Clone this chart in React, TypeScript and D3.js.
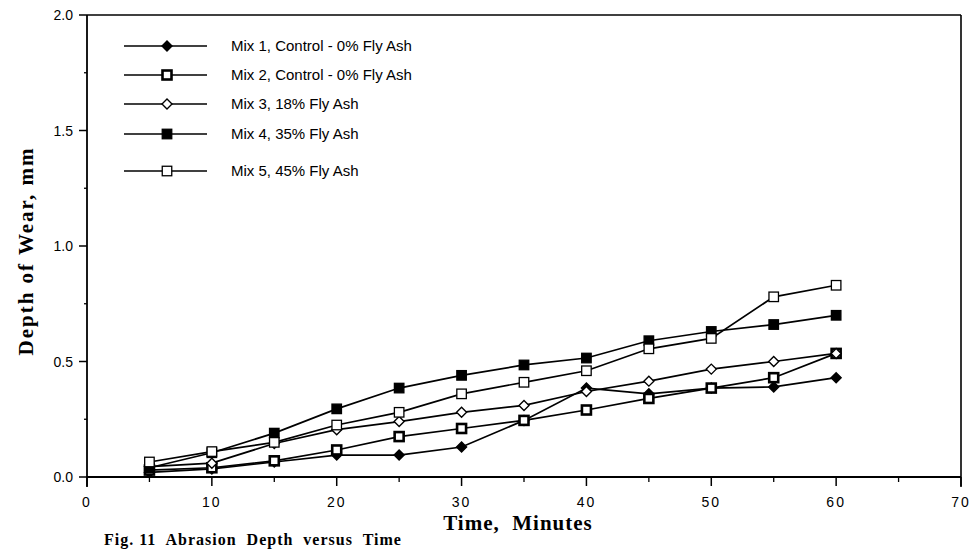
import React from 'react';
import * as d3 from 'd3';

// time (minutes) at which wear depth was read
const times = [5, 10, 15, 20, 25, 30, 35, 40, 45, 50, 55, 60];

// depth of wear, mm - one array per mix
const mix1 = [0.02, 0.035, 0.065, 0.095, 0.095, 0.13, 0.245, 0.385, 0.36, 0.385, 0.39, 0.43];
const mix2 = [0.03, 0.04, 0.07, 0.117, 0.175, 0.21, 0.245, 0.29, 0.34, 0.385, 0.43, 0.535];
const mix3 = [0.045, 0.06, 0.145, 0.205, 0.24, 0.28, 0.31, 0.37, 0.415, 0.467, 0.5, 0.535];
const mix4 = [0.04, 0.105, 0.19, 0.295, 0.385, 0.44, 0.485, 0.515, 0.59, 0.63, 0.66, 0.70];
const mix5 = [0.065, 0.11, 0.15, 0.225, 0.28, 0.36, 0.41, 0.46, 0.555, 0.60, 0.78, 0.83];

const seriesNames = [
  'Mix 1, Control - 0% Fly Ash',
  'Mix 2, Control - 0% Fly Ash',
  'Mix 3, 18% Fly Ash',
  'Mix 4, 35% Fly Ash',
  'Mix 5, 45% Fly Ash',
];
const seriesMarkers = ['diamondFilled', 'squareBold', 'diamondOpen', 'squareFilled', 'squareOpen'];
const seriesValues = [mix1, mix2, mix3, mix4, mix5];

const xTicks = [0, 10, 20, 30, 40, 50, 60, 70];
const xMinor = [5, 15, 25, 35, 45, 55, 65];
const yTicks = [0, 0.5, 1.0, 1.5, 2.0];
const yMinor = [0.25, 0.75, 1.25, 1.75];

const sans = '"Liberation Sans", Arial, sans-serif';
const serif = '"Liberation Serif", "Times New Roman", serif';

function Marker({ kind, x, y }: { kind: string; x: number; y: number }) {
  if (kind === 'diamondFilled' || kind === 'diamondOpen') {
    const r = 5;
    const d = `M${x},${y - r}L${x + r},${y}L${x},${y + r}L${x - r},${y}Z`;
    return <path d={d} fill={kind === 'diamondFilled' ? '#000' : '#fff'} stroke="#000" strokeWidth={1.4} />;
  }
  if (kind === 'squareBold') {
    return <rect x={x - 4.5} y={y - 4.5} width={9} height={9} fill="#fff" stroke="#000" strokeWidth={2.6} />;
  }
  const s = 9.5;
  return (
    <rect x={x - s / 2} y={y - s / 2} width={s} height={s}
      fill={kind === 'squareFilled' ? '#000' : '#fff'} stroke="#000" strokeWidth={1.3} />
  );
}

export default function App() {
  const width = 973;
  const height = 549;
  const x = d3.scaleLinear().domain([0, 70]).range([87, 961]);
  const y = d3.scaleLinear().domain([0, 2]).range([477, 15]);

  const line = d3.line<[number, number]>()
    .x(d => x(d[0]))
    .y(d => y(d[1]));

  const fmt = d3.format('.1f');
  const legendRows = [46, 75, 104, 134, 171];

  return (
    <svg width={width} height={height} style={{ position: 'absolute', left: 0, top: 0, background: '#fff' }}>
      <rect x={0} y={0} width={width} height={height} fill="#fff" />

      {/* frame */}
      <line x1={x(0)} y1={y(2)} x2={x(70)} y2={y(2)} stroke="#000" strokeWidth={1.6} />
      <line x1={x(70)} y1={y(2)} x2={x(70)} y2={y(0) + 10} stroke="#000" strokeWidth={1.6} />
      <line x1={x(0)} y1={y(0)} x2={x(70)} y2={y(0)} stroke="#000" strokeWidth={2} />
      <line x1={x(0)} y1={y(2)} x2={x(0)} y2={y(0) + 10} stroke="#000" strokeWidth={1.8} />

      {/* x ticks */}
      {xTicks.map(t => (
        <g key={'xt' + t}>
          <line x1={x(t)} x2={x(t)} y1={y(0)} y2={y(0) + 9} stroke="#000" strokeWidth={1.5} />
          <text x={x(t)} y={507} textAnchor="middle" fontFamily={sans} fontSize={14} letterSpacing={2}>{t}</text>
        </g>
      ))}
      {xMinor.map(t => (
        <line key={'xm' + t} x1={x(t)} x2={x(t)} y1={y(0)} y2={y(0) + 5} stroke="#000" strokeWidth={1.3} />
      ))}

      {/* y ticks */}
      {yTicks.map(t => (
        <g key={'yt' + t}>
          <line x1={x(0) - 8} x2={x(0)} y1={y(t)} y2={y(t)} stroke="#000" strokeWidth={1.5} />
          <text x={73} y={y(t) + 5} textAnchor="end" fontFamily={sans} fontSize={14}>{fmt(t)}</text>
        </g>
      ))}
      {yMinor.map(t => (
        <line key={'ym' + t} x1={x(0) - 3} x2={x(0)} y1={y(t)} y2={y(t)} stroke="#000" strokeWidth={1.3} />
      ))}

      {/* axis titles */}
      <text x={518} y={530} textAnchor="middle" fontFamily={serif} fontWeight="bold" fontSize={21}
        letterSpacing={1} xmlSpace="preserve">Time,  Minutes</text>
      <text transform={`translate(33,${y(1) + 5}) rotate(-90)`} textAnchor="middle" fontFamily={serif}
        fontWeight="bold" fontSize={21} letterSpacing={2}>Depth of Wear, mm</text>
      <text x={104} y={545} fontFamily={serif} fontWeight="bold" fontSize={16} letterSpacing={1}
        xmlSpace="preserve">Fig. 11  Abrasion  Depth  versus  Time</text>

      {/* series */}
      {seriesValues.map((vals, i) => {
        const pts = times.map((t, j) => [t, vals[j]] as [number, number]);
        return (
          <g key={'s' + i}>
            <path d={line(pts) || ''} fill="none" stroke="#000" strokeWidth={1.7} />
            {pts.map((p, j) => <Marker key={j} kind={seriesMarkers[i]} x={x(p[0])} y={y(p[1])} />)}
          </g>
        );
      })}

      {/* legend */}
      {seriesNames.map((name, i) => (
        <g key={'lg' + i}>
          <line x1={124} x2={207} y1={legendRows[i]} y2={legendRows[i]} stroke="#000" strokeWidth={1.7} />
          <Marker kind={seriesMarkers[i]} x={167} y={legendRows[i]} />
          <text x={231} y={legendRows[i] + 5} fontFamily={sans} fontSize={15}>{name}</text>
        </g>
      ))}
    </svg>
  );
}
